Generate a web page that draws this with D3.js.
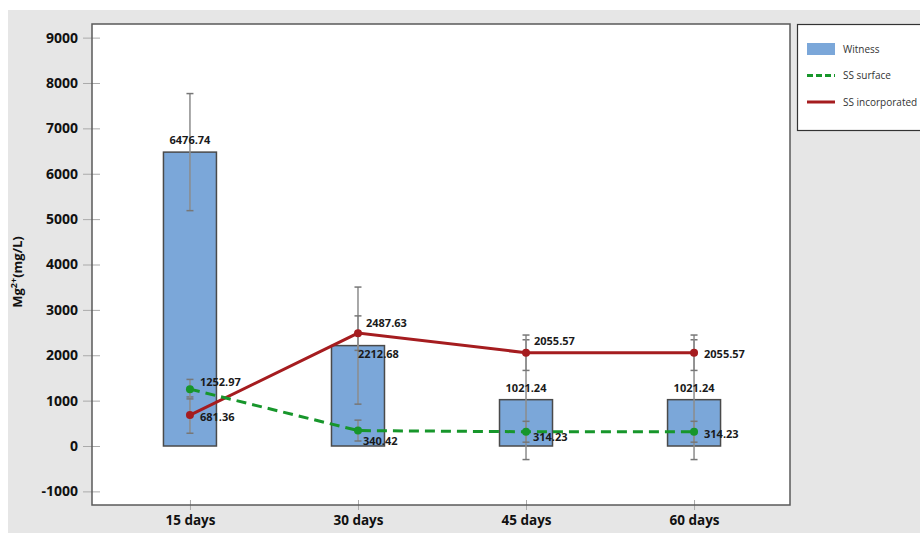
<!DOCTYPE html>
<html>
<head>
<meta charset="utf-8">
<script src="https://cdn.jsdelivr.net/npm/d3@7"></script>
<style>
  body { margin: 0; background: #fff; }
  svg { display: block; }
</style>
</head>
<body>
<svg id="chart" width="920" height="533"></svg>
<script>
const categories = ['15 days', '30 days', '45 days', '60 days']
const witness = [6476.74, 2212.68, 1021.24, 1021.24]
const witnessErr = [1290, 1290, 1320, 1320]
const ssSurface = [1252.97, 340.42, 314.23, 314.23]
const ssSurfaceErr = [215, 230, 230, 230]
const ssIncorporated = [681.36, 2487.63, 2055.57, 2055.57]
const ssIncorporatedErr = [400, 380, 390, 390]
const yTicks = [-1000, 0, 1000, 2000, 3000, 4000, 5000, 6000, 7000, 8000, 9000]

// where each value label sits relative to its point: [dx, dy, anchor]
const witnessLabelPos = [[0, -8, 'middle'], [0, 12, 'start'], [0, -8, 'middle'], [0, -8, 'middle']]
const surfaceLabelPos = [[10, -3, 'start'], [5, 14, 'start'], [7, 9, 'start'], [10, 6, 'start']]
const incorpLabelPos = [[10, 6, 'start'], [8, -6, 'start'], [8, -8, 'start'], [10, 5, 'start']]

const svg = d3.select('#chart')
const plot = { left: 92, top: 24, right: 790, bottom: 505 }

svg.append('rect')
  .attr('x', 8).attr('y', 10)
  .attr('width', 912).attr('height', 523)
  .style('fill', '#e6e6e6')

svg.append('rect')
  .attr('x', plot.left).attr('y', plot.top)
  .attr('width', plot.right - plot.left).attr('height', plot.bottom - plot.top)
  .style('fill', '#fff')

const x = d3.scalePoint()
  .domain(categories)
  .range([plot.left + 1, plot.right + 1])
  .padding(0.577)

const y = d3.scaleLinear()
  .domain([-1300, 9300])
  .range([plot.bottom, plot.top])

const barWidth = 53

// y axis
const yAxis = svg.append('g')
  .attr('transform', `translate(${plot.left},0)`)
  .call(d3.axisLeft(y).tickValues(yTicks).tickSize(0).tickPadding(14).tickFormat(d => String(d)))
yAxis.select('.domain').remove()
yAxis.selectAll('text')
  .style('font-family', '"Open Sans", sans-serif')
  .style('font-weight', 'bold')
  .style('font-size', '14px')
  .style('fill', '#111')
yAxis.selectAll('.tick').append('line')
  .attr('x1', -9).attr('x2', 8)
  .style('stroke', '#aaa')

// x axis
const xAxis = svg.append('g')
  .attr('transform', `translate(0,${plot.bottom})`)
  .call(d3.axisBottom(x).tickSize(0).tickPadding(10))
xAxis.select('.domain').remove()
xAxis.selectAll('text')
  .style('font-family', '"Open Sans", sans-serif')
  .style('font-weight', 'bold')
  .style('font-size', '13.5px')
  .style('fill', '#111')
xAxis.selectAll('.tick').append('line')
  .attr('y1', -5).attr('y2', 5)
  .style('stroke', '#aaa')

// bars
svg.append('g').selectAll('rect')
  .data(witness)
  .enter()
  .append('rect')
  .attr('x', (d, i) => x(categories[i]) - barWidth / 2)
  .attr('y', d => y(d))
  .attr('width', barWidth)
  .attr('height', d => y(0) - y(d))
  .style('fill', '#7ba7d9')
  .style('stroke', '#4a4a4a')
  .style('stroke-width', 1.5)

function errorBars(values, errs) {
  const g = svg.append('g')
  values.forEach((v, i) => {
    const cx = x(categories[i])
    g.append('line')
      .attr('x1', cx).attr('x2', cx)
      .attr('y1', y(v + errs[i])).attr('y2', y(v - errs[i]))
      .style('stroke', '#8c8c8c').style('stroke-width', 1.5)
    ;[v + errs[i], v - errs[i]].forEach(e => {
      g.append('line')
        .attr('x1', cx - 3.5).attr('x2', cx + 3.5)
        .attr('y1', y(e)).attr('y2', y(e))
        .style('stroke', '#777').style('stroke-width', 1.5)
    })
  })
}

errorBars(witness, witnessErr)
errorBars(ssIncorporated, ssIncorporatedErr)
errorBars(ssSurface, ssSurfaceErr)

const line = d3.line()
  .x((d, i) => x(categories[i]))
  .y(d => y(d))

function series(values, color, dash) {
  svg.append('path')
    .datum(values)
    .attr('d', line)
    .style('fill', 'none')
    .style('stroke', color)
    .style('stroke-width', 3)
    .style('stroke-dasharray', dash)
  svg.append('g').selectAll('circle')
    .data(values)
    .enter()
    .append('circle')
    .attr('cx', (d, i) => x(categories[i]))
    .attr('cy', d => y(d))
    .attr('r', 4)
    .style('fill', color)
}

series(ssIncorporated, '#a51c1f', null)
series(ssSurface, '#17962b', '10,6')

function labels(values, pos) {
  svg.append('g').selectAll('text')
    .data(values)
    .enter()
    .append('text')
    .attr('x', (d, i) => x(categories[i]) + pos[i][0])
    .attr('y', d => y(d))
    .attr('dy', (d, i) => pos[i][1])
    .attr('text-anchor', (d, i) => pos[i][2])
    .text(d => d.toFixed(2))
    .style('font-family', '"Open Sans", sans-serif')
    .style('font-weight', 'bold')
    .style('font-size', '11px')
    .style('fill', '#1a1a1a')
}

labels(witness, witnessLabelPos)
labels(ssSurface, surfaceLabelPos)
labels(ssIncorporated, incorpLabelPos)

// plot frame
svg.append('rect')
  .attr('x', plot.left).attr('y', plot.top)
  .attr('width', plot.right - plot.left).attr('height', plot.bottom - plot.top)
  .style('fill', 'none')
  .style('stroke', '#5a5a5a')
  .style('stroke-width', 1.5)

// y title
const title = svg.append('text')
  .attr('transform', 'translate(22,272) rotate(-90)')
  .attr('text-anchor', 'middle')
  .style('font-family', '"Open Sans", sans-serif')
  .style('font-weight', 'bold')
  .style('font-size', '13px')
  .style('fill', '#111')
title.append('tspan').text('Mg')
title.append('tspan').text('2+').attr('dy', -5).style('font-size', '9px')
title.append('tspan').text('(mg/L)').attr('dy', 5)

// legend
const legend = svg.append('g')
legend.append('rect')
  .attr('x', 797.5).attr('y', 24.5)
  .attr('width', 130).attr('height', 106)
  .style('fill', '#fff')
  .style('stroke', '#333')
  .style('stroke-width', 1.2)

const legendItems = [
  { name: 'Witness', type: 'bar' },
  { name: 'SS surface', type: 'dash' },
  { name: 'SS incorporated', type: 'line' }
]
legendItems.forEach((item, i) => {
  const ly = 49 + i * 26.5
  if (item.type === 'bar') {
    legend.append('rect')
      .attr('x', 807).attr('y', ly - 6)
      .attr('width', 28).attr('height', 12)
      .style('fill', '#7ba7d9')
  } else {
    legend.append('line')
      .attr('x1', 807).attr('x2', 835)
      .attr('y1', ly).attr('y2', ly)
      .style('stroke', item.type === 'dash' ? '#17962b' : '#a51c1f')
      .style('stroke-width', 3)
      .style('stroke-dasharray', item.type === 'dash' ? '6,3' : null)
  }
  legend.append('text')
    .attr('x', 843).attr('y', ly)
    .attr('dy', '0.35em')
    .text(item.name)
    .style('font-family', '"Open Sans", sans-serif')
    .style('font-size', '10px')
    .style('fill', '#333')
})
</script>
</body>
</html>
